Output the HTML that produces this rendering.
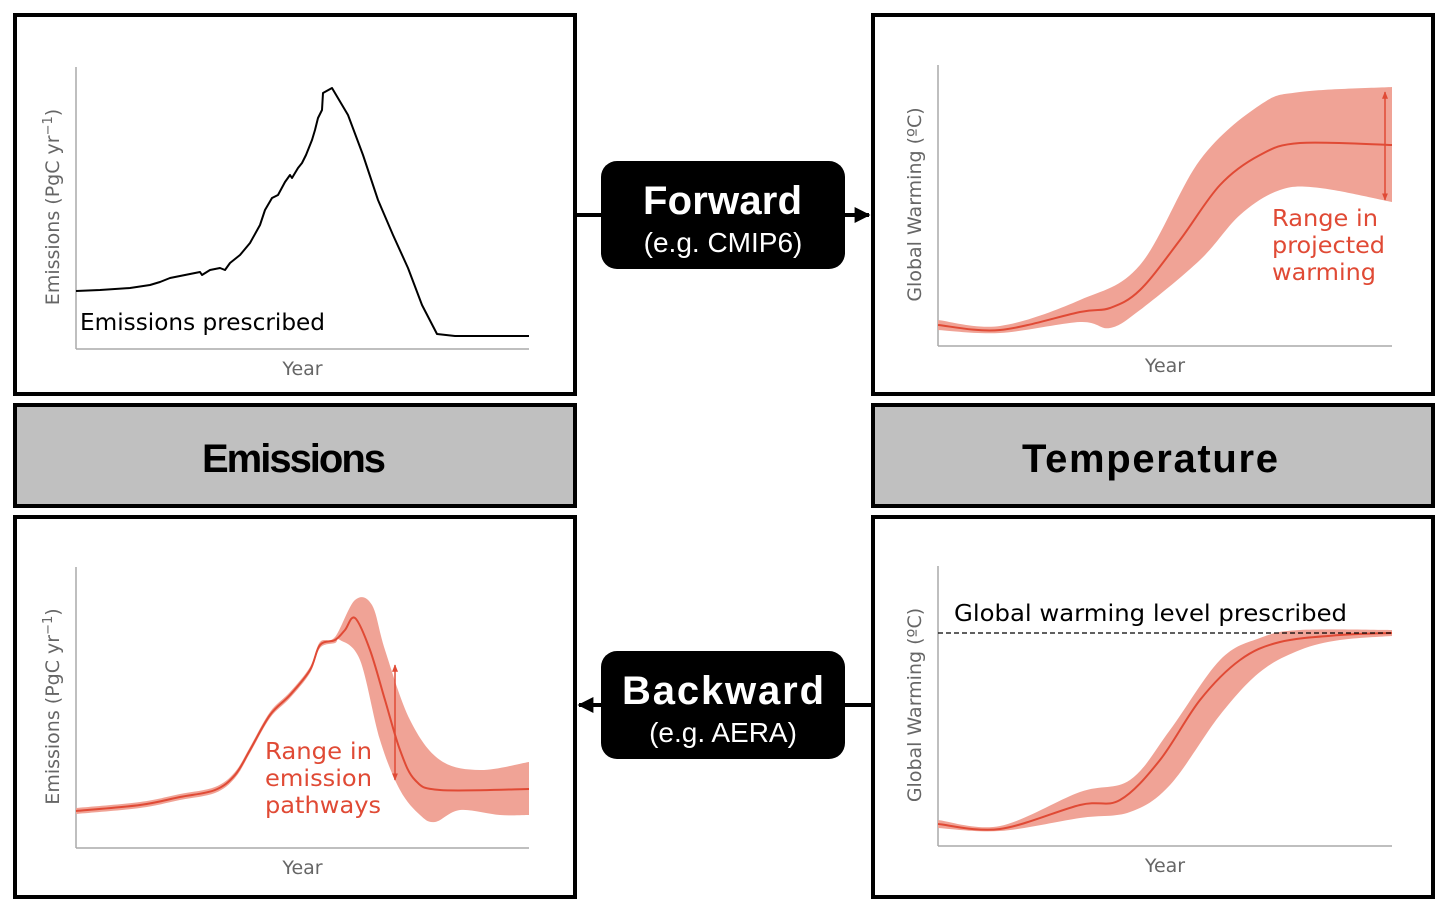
<!DOCTYPE html>
<html><head><meta charset="utf-8">
<style>
html,body{margin:0;padding:0;background:#fff;}
svg{display:block;font-family:"Liberation Sans","DejaVu Sans",sans-serif;}
.mpl{font-family:"DejaVu Sans","Liberation Sans",sans-serif;}
</style></head>
<body>
<svg id="fig" width="1448" height="914" viewBox="0 0 1448 914" xmlns="http://www.w3.org/2000/svg">
<defs>
<marker id="ah" viewBox="0 0 10 10" refX="9" refY="5" markerWidth="4" markerHeight="4" orient="auto-start-reverse"><path d="M0,0 L10,5 L0,10 z" fill="#000"/></marker>
<marker id="rh" viewBox="0 0 10 10" refX="9" refY="5" markerWidth="5" markerHeight="5" orient="auto-start-reverse"><path d="M0,1 L10,5 L0,9 z" fill="#e04a35"/></marker>
</defs>
<rect x="15" y="15" width="560" height="379" fill="#fff" stroke="#000" stroke-width="4"/>
<rect x="873" y="15" width="560" height="379" fill="#fff" stroke="#000" stroke-width="4"/>
<rect x="15" y="405" width="560" height="101" fill="#c0c0c0" stroke="#000" stroke-width="4"/>
<rect x="873" y="405" width="560" height="101" fill="#c0c0c0" stroke="#000" stroke-width="4"/>
<rect x="15" y="517" width="560" height="380" fill="#fff" stroke="#000" stroke-width="4"/>
<rect x="873" y="517" width="560" height="380" fill="#fff" stroke="#000" stroke-width="4"/>
<text x="202" y="472" textLength="184" font-size="40" font-weight="bold">Emissions</text>
<text x="1022" y="472" textLength="256" font-size="40" font-weight="bold">Temperature</text>
<line x1="577" y1="215" x2="601" y2="215" stroke="#000" stroke-width="4"/>
<line x1="845" y1="215" x2="869" y2="215" stroke="#000" stroke-width="4" marker-end="url(#ah)"/>
<line x1="871" y1="705" x2="845" y2="705" stroke="#000" stroke-width="4"/>
<line x1="601" y1="705" x2="579" y2="705" stroke="#000" stroke-width="4" marker-end="url(#ah)"/>
<rect x="601" y="161" width="244" height="108" rx="16" fill="#000"/>
<text x="643" y="214" textLength="159" font-size="40" font-weight="bold" fill="#fff">Forward</text>
<text x="723" y="252" text-anchor="middle" font-size="28" fill="#fff">(e.g. CMIP6)</text>
<rect x="601" y="651" width="244" height="108" rx="16" fill="#000"/>
<text x="622" y="704" textLength="202" font-size="40" font-weight="bold" fill="#fff">Backward</text>
<text x="723" y="742" text-anchor="middle" font-size="28" fill="#fff">(e.g. AERA)</text>
<g id="charts" class="mpl"></g>
</svg>
<script>
// Top-left: prescribed emissions
const tlYears=[0,24,54,74,84,94,104,114,124,126,134,144,149,154,164,174,184,189,196,202,209,214,216,222,226,230,236,239,242,246,247,256,272,287,302,317,332,346,361,379,453];
const tlVals=[58,59,61,64,67,71,73,75,77,74,79,81,79,86,94,106,124,139,151,154,167,174,171,181,186,194,209,219,231,239,256,261,234,194,149,114,81,44,15,13,13];
// Top-right: projected warming
const trMedYears=[0,62,142,172,202,242,282,322,362,454];
const trMedVals=[21,16,34,38,56,106,161,191,203,201];
const trUpYears=[0,62,142,202,262,322,362,454];
const trUpVals=[26,20,46,81,186,241,254,259];
const trLoYears=[0,62,142,172,202,262,302,342,382,454];
const trLoVals=[16,13,24,18,36,86,131,156,158,144];
// Bottom-right: prescribed warming level
const brMedYears=[0,62,142,182,222,262,302,342,402,454];
const brMedVals=[22,17,41,46,86,146,186,204,211,213];
const brUpYears=[0,62,142,192,232,282,322,362,454];
const brUpVals=[26,20,54,66,116,186,208,216,216];
const brLoYears=[0,62,142,192,232,282,322,362,402,454];
const brLoVals=[18,15,28,34,61,131,174,196,206,210];
const brLevel=213;
// Bottom-left: emission pathways
const blYears=[0,64,104,139,159,174,194,214,234,244,259,269,279,294,309,324,339,364,453];
const blVals=[37,43,51,58,73,98,133,153,178,203,208,218,230,198,148,98,68,58,59];
const blUpYears=[0,64,104,139,159,174,194,214,234,244,259,279,296,309,334,364,404,453];
const blUpVals=[40,46,54,61,76,101,136,156,181,206,211,248,243,198,128,88,78,86];
const blLoYears=[0,64,104,139,159,174,194,214,234,244,259,264,284,304,324,344,359,384,424,453];
const blLoVals=[34,40,48,55,70,95,130,150,175,200,205,208,188,108,58,33,26,38,33,33];

const NS='http://www.w3.org/2000/svg';
const root=document.getElementById('charts');
function mk(tag,attrs,parent){const e=document.createElementNS(NS,tag);for(const k in attrs)e.setAttribute(k,attrs[k]);(parent||root).appendChild(e);return e;}
function axes(left,top,bottom,right){return {x:v=>left+v, y:v=>bottom-v, left,top,bottom,right};}
function P(ax,xs,ys){return xs.map((v,i)=>[ax.x(v),ax.y(ys[i])]);}
function smooth(p,move){
  let d=(move?'M':'L')+p[0][0].toFixed(1)+','+p[0][1].toFixed(1);
  for(let i=0;i<p.length-1;i++){
    const p0=p[i-1]||p[i],p1=p[i],p2=p[i+1],p3=p[i+2]||p2;
    const c1=[p1[0]+(p2[0]-p0[0])/6,p1[1]+(p2[1]-p0[1])/6];
    const c2=[p2[0]-(p3[0]-p1[0])/6,p2[1]-(p3[1]-p1[1])/6];
    d+=` C${c1[0].toFixed(1)},${c1[1].toFixed(1)} ${c2[0].toFixed(1)},${c2[1].toFixed(1)} ${p2[0].toFixed(1)},${p2[1].toFixed(1)}`;
  }
  return d;
}
function drawAxes(ax,ylabel,name){
  const g=mk('g',{});
  
  
  const ya=mk('line',{x1:ax.left,y1:ax.top,x2:ax.left,y2:ax.bottom,stroke:'#aaa','stroke-width':1.5},g);
  
  
  const xa=mk('line',{x1:ax.left,y1:ax.bottom,x2:ax.right,y2:ax.bottom,stroke:'#aaa','stroke-width':1.5},g);
  
  
  const xt=mk('text',{x:(ax.left+ax.right)/2,y:ax.bottom+26,'text-anchor':'middle','font-size':19,fill:'#666'},g);
  xt.textContent='Year';
  
  
  const cy=(ax.top+ax.bottom)/2-1;
  const yt=mk('text',{x:ax.left-17,y:cy,'text-anchor':'middle','font-size':19,fill:'#666',transform:`rotate(-90 ${ax.left-17} ${cy})`},g);
  yt.innerHTML=ylabel;
  
  
}
function band(ax,ux,uy,lx,ly,name){
  const d=smooth(P(ax,ux,uy),true)+smooth(P(ax,lx,ly).reverse(),false)+'Z';
  const e=mk('path',{d:d,fill:'#f0a396'});
  
  
}
function line(ax,xs,ys,color,w,name,sm){
  const p=P(ax,xs,ys);
  const d=sm?smooth(p,true):'M'+p.map(q=>q[0].toFixed(1)+','+q[1].toFixed(1)).join(' L');
  const e=mk('path',{d:d,fill:'none',stroke:color,'stroke-width':w,'stroke-linejoin':'round'});
  
  
}
function label(x,y,s,size,fill,len,name){
  const e=mk('text',{x:x,y:y,'font-size':size,fill:fill,textLength:len,lengthAdjust:'spacingAndGlyphs'});
  e.textContent=s;
  
  
}
const RED='#e04a35';
const EMY='Emissions (PgC yr<tspan dy="-7" font-size="13">−1</tspan><tspan dy="7">)</tspan>';
const GWY='Global Warming (ºC)';

const aTL=axes(76,67,349,529);
drawAxes(aTL,EMY,'emissions-forward');
line(aTL,tlYears,tlVals,'#000',2,'prescribed-emissions-line',false);
label(80,330,'Emissions prescribed',23,'#000',245,'emissions-prescribed-label');

const aTR=axes(938,65,346,1392);
drawAxes(aTR,GWY,'temperature-forward');
band(aTR,trUpYears,trUpVals,trLoYears,trLoVals,'projected-warming-band');
line(aTR,trMedYears,trMedVals,RED,2,'projected-warming-median',true);
let ar=mk('line',{x1:1385,y1:92,x2:1385,y2:200,stroke:RED,'stroke-width':1.5,'marker-start':'url(#rh)','marker-end':'url(#rh)'});


label(1272,226,'Range in',23,RED,106,'warming-range-label');
label(1272,253,'projected',23,RED,113,'warming-range-label');
label(1272,280,'warming',23,RED,104,'warming-range-label');

const aBR=axes(938,566,846,1392);
drawAxes(aBR,GWY,'temperature-backward');
band(aBR,brUpYears,brUpVals,brLoYears,brLoVals,'warming-level-band');
line(aBR,brMedYears,brMedVals,RED,2,'warming-level-median',true);
let dl=mk('line',{x1:aBR.x(0),y1:aBR.y(brLevel),x2:aBR.right,y2:aBR.y(brLevel),stroke:'#000','stroke-width':1.3,'stroke-dasharray':'5,3'});


label(954,621,'Global warming level prescribed',23,'#000',393,'warming-level-label');

const aBL=axes(76,567,848,529);
drawAxes(aBL,EMY,'emissions-backward');
band(aBL,blUpYears,blUpVals,blLoYears,blLoVals,'emission-pathways-band');
line(aBL,blYears,blVals,RED,2,'emission-pathways-median',true);
ar=mk('line',{x1:395,y1:665,x2:395,y2:780,stroke:RED,'stroke-width':1.5,'marker-start':'url(#rh)','marker-end':'url(#rh)'});


label(265,759,'Range in',23,RED,107,'emission-range-label');
label(265,786,'emission',23,RED,107,'emission-range-label');
label(265,813,'pathways',23,RED,116,'emission-range-label');
</script>
</body></html>
